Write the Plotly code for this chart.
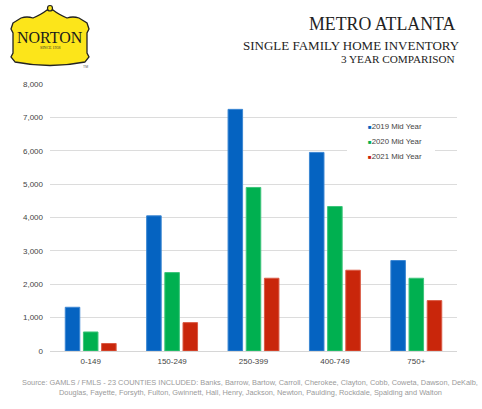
import plotly.graph_objects as go

categories = ["0-149", "150-249", "250-399", "400-749", "750+"]
series_names = ["2019 Mid Year", "2020 Mid Year", "2021 Mid Year"]
values_2019 = [1310, 4050, 7240, 5950, 2710]
values_2020 = [570, 2350, 4900, 4330, 2180]
values_2021 = [225, 850, 2180, 2420, 1510]
y_ticks = [0, 1000, 2000, 3000, 4000, 5000, 6000, 7000, 8000]

colors = ["#0563C1", "#00B050", "#C9260B"]
edge_colors = ["#3C87D3", "#3CC47A", "#DA5A44"]

W, H = 482, 409
L, R, T, B = 50, 457, 84, 351


def px(x):
    return (x - L) / (R - L)


def py(y):
    return (B - y) / (B - T)


fig = go.Figure()
for name, vals, c, ec in zip(series_names, [values_2019, values_2020, values_2021], colors, edge_colors):
    fig.add_trace(go.Bar(x=categories, y=vals, name=name, marker=dict(color=c, line=dict(color=ec, width=1)),
                         showlegend=False))

shapes = []
annotations = []

# legend background (hides gridline)
shapes.append(dict(type="rect", xref="paper", yref="paper", x0=px(347), x1=px(435), y0=py(163), y1=py(119),
                   fillcolor="white", line=dict(width=0), layer="above"))
for i, (name, c) in enumerate(zip(series_names, colors)):
    annotations.append(dict(xref="paper", yref="paper", x=px(366), y=py(127 + i * 14.5), xanchor="left",
                            yanchor="middle", showarrow=False,
                            text=f"<span style='color:{c};font-size:6px'>■</span>{name}",
                            font=dict(family="Liberation Sans, Arial", size=7.8, color="#444444")))

# Title
title_lines = [("METRO ATLANTA", 17.8, 457, 24), ("SINGLE FAMILY HOME INVENTORY", 13, 462, 45),
               ("3 YEAR COMPARISON", 11.2, 457, 59)]
for text, size, xr, yc in title_lines:
    annotations.append(dict(xref="paper", yref="paper", x=px(xr), y=py(yc), xanchor="right", yanchor="middle",
                            showarrow=False, text=text,
                            font=dict(family="Liberation Serif, Times New Roman", size=size, color="#222222")))

# Source note
source_lines = ["Source: GAMLS / FMLS - 23 COUNTIES INCLUDED: Banks, Barrow, Bartow, Carroll, Cherokee, Clayton, Cobb, Coweta, Dawson, DeKalb,",
                "Douglas, Fayette, Forsyth, Fulton, Gwinnett, Hall, Henry, Jackson, Newton, Paulding, Rockdale, Spalding and Walton"]
for i, line in enumerate(source_lines):
    annotations.append(dict(xref="paper", yref="paper", x=px(250), y=py(382 + i * 10.5), xanchor="center",
                            yanchor="middle", showarrow=False, text=line,
                            font=dict(family="Liberation Sans, Arial", size=7.4, color="#9a9a9a")))

# Logo badge
logo_pts = [
    "M", (13, 23), "L", (21, 18), "Q", (27, 16), (33, 18), "Q", (42, 14), (47, 10), "L", (53, 10),
    "Q", (58, 14), (67, 18), "Q", (73, 16), (79, 18), "L", (87, 23), "L", (89, 29), "L", (87, 33),
    "L", (87, 53), "L", (89, 57), "L", (85, 62), "Q", (50, 69), (15, 62), "L", (11, 57), "L", (13, 53),
    "L", (13, 33), "L", (11, 29), "Z",
]
path = ""
for p in logo_pts:
    if isinstance(p, str):
        path += p + " "
    else:
        path += f"{px(p[0]):.5f},{py(p[1]):.5f} "
shapes.append(dict(type="path", xref="paper", yref="paper", path=path.strip(), fillcolor="#FCE51A",
                   line=dict(color="#222222", width=1.3), layer="above"))
shapes.append(dict(type="circle", xref="paper", yref="paper", x0=px(47.5), x1=px(52.5), y0=py(11), y1=py(5.5),
                   fillcolor="#FCE51A", line=dict(color="#222222", width=1.2), layer="above"))
annotations.append(dict(xref="paper", yref="paper", x=px(50), y=py(37), xanchor="center", yanchor="middle",
                        showarrow=False, text="NORTON",
                        font=dict(family="Liberation Serif, Times New Roman", size=16, color="#1a1a1a")))
annotations.append(dict(xref="paper", yref="paper", x=px(50), y=py(48), xanchor="center", yanchor="middle",
                        showarrow=False, text="SINCE 1938",
                        font=dict(family="Liberation Serif, Times New Roman", size=4, color="#333333")))
annotations.append(dict(xref="paper", yref="paper", x=px(85), y=py(67), xanchor="center", yanchor="middle",
                        showarrow=False, text="TM",
                        font=dict(family="Liberation Sans, Arial", size=3.5, color="#555555")))

fig.update_layout(
    width=W, height=H,
    margin=dict(l=L, r=W - R, t=T, b=H - B, pad=0),
    paper_bgcolor="white", plot_bgcolor="white",
    barmode="group", bargap=0.33, bargroupgap=0.2,
    shapes=shapes, annotations=annotations,
    font=dict(family="Liberation Sans, Arial", size=8, color="#555555"),
    xaxis=dict(showgrid=False, showline=False, ticks="", ticklabelstandoff=4,
               tickfont=dict(size=8, color="#444444")),
    yaxis=dict(range=[0, 8000], tickvals=y_ticks, tickformat=",", showgrid=True, gridcolor="#dcdcdc",
               gridwidth=1, zeroline=True, zerolinecolor="#d6d6d6", zerolinewidth=1, showline=False,
               ticks="", ticklabelstandoff=6, tickfont=dict(size=8, color="#444444")),
)

fig.write_html("out.html")
